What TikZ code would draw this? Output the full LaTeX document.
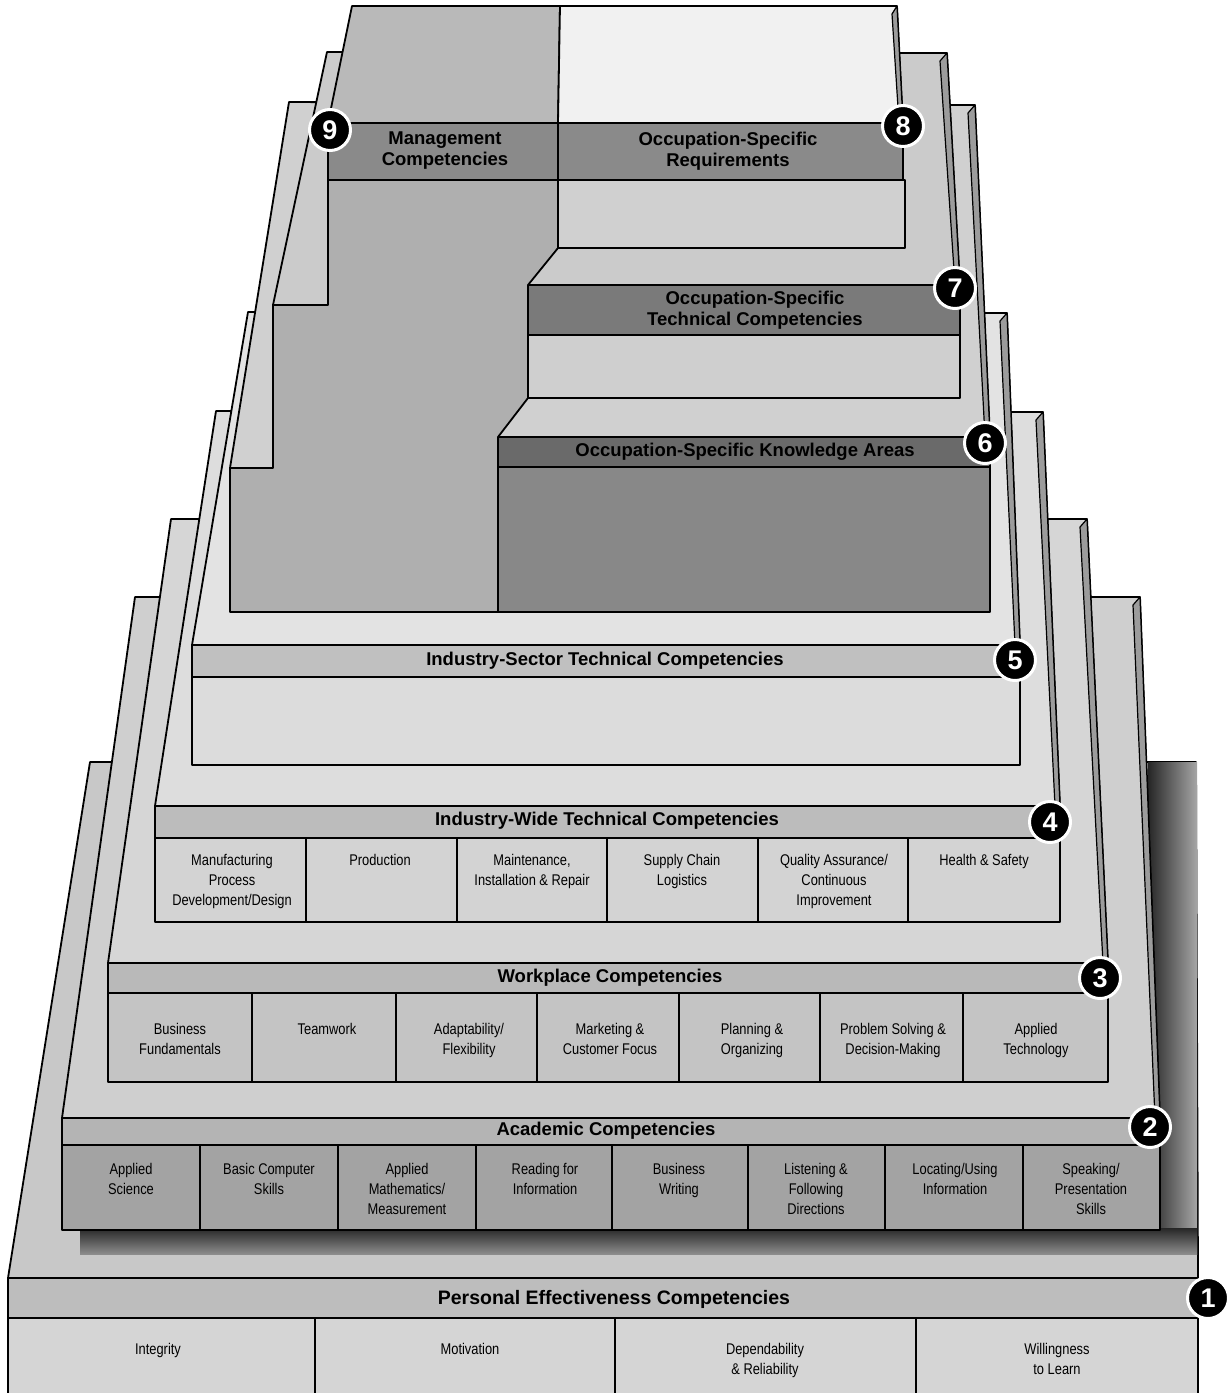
\documentclass[tikz,border=0pt]{standalone}
\usepackage{fontspec}
\setmainfont{Liberation Sans}
\newfontfamily\narrowfont{Liberation Sans}[FakeStretch=0.83]
\usetikzlibrary{calc}
\definecolor{topA}{HTML}{C8C8C8}
\definecolor{topB}{HTML}{CFCFCF}
\definecolor{topC}{HTML}{D6D6D6}
\definecolor{topD}{HTML}{DDDDDD}
\definecolor{topE}{HTML}{E3E3E3}
\definecolor{topF}{HTML}{D0D0D0}
\definecolor{topG}{HTML}{CBCBCB}
\definecolor{hdrA}{HTML}{BDBDBD}
\definecolor{celA}{HTML}{D5D5D5}
\definecolor{hdrB}{HTML}{B4B4B4}
\definecolor{celB}{HTML}{A3A3A3}
\definecolor{hdrC}{HTML}{B9B9B9}
\definecolor{celC}{HTML}{C4C4C4}
\definecolor{hdrD}{HTML}{BCBCBC}
\definecolor{celD}{HTML}{D3D3D3}
\definecolor{hdrE}{HTML}{C0C0C0}
\definecolor{celE}{HTML}{DCDCDC}
\definecolor{hdrF}{HTML}{6A6A6A}
\definecolor{celF}{HTML}{888888}
\definecolor{hdrG}{HTML}{7A7A7A}
\definecolor{celG}{HTML}{CFCFCF}
\definecolor{hdrH}{HTML}{8A8A8A}
\definecolor{celH}{HTML}{D0D0D0}
\definecolor{mgmt}{HTML}{AFAFAF}
\definecolor{mgmttop}{HTML}{B9B9B9}
\definecolor{occtop}{HTML}{F1F1F1}
\definecolor{sidec}{HTML}{9C9C9C}
\begin{document}
\begin{tikzpicture}[x=1pt,y=-1pt,line join=round,
  edge/.style={draw=black,line width=1.8pt},
  hdr/.style={font=\fontsize{18.5}{21}\selectfont\bfseries,align=center,inner sep=0pt},
  celltxt/.style={font=\narrowfont\fontsize{15.5}{20}\selectfont,align=center,inner sep=0pt,anchor=north},
  badge/.style={circle,fill=black,draw=white,line width=3pt,minimum size=41pt,inner sep=0pt,
    text=white,font=\fontsize{27}{27}\selectfont\bfseries},
  sideface/.style={fill=sidec,draw=black,line width=1.2pt}]
\useasboundingbox (0,0) rectangle (1231,1393);
\begin{scope}
\clip (0,0) rectangle (1231,1393);

% ---------- tier 1 ----------
\filldraw[fill=topA,edge] (90,762) -- (1196,762) -- (1198,1278) -- (8,1278) -- cycle;
% shadow of tier 2
\shade[left color=black!85,right color=black!35] (1148,762) rectangle (1197,1254);
\shade[top color=black!85,bottom color=black!45] (80,1228) rectangle (1197,1254);
\filldraw[fill=hdrA,edge] (8,1278) rectangle (1198,1318);
\filldraw[fill=celA,edge] (8,1318) rectangle (1198,1400);
\foreach \xx in {315,615,916} \draw[edge] (\xx,1318) -- (\xx,1400);

% ---------- tier 2 ----------
\filldraw[fill=topB,edge] (135,597) -- (1140,597) -- (1160,1118) -- (62,1118) -- cycle;
\filldraw[sideface] (1140,597) -- (1160,1118) -- (1155,1118) -- (1133,605) -- cycle;
\filldraw[fill=hdrB,edge] (62,1118) rectangle (1160,1145);
\filldraw[fill=celB,edge] (62,1145) rectangle (1160,1230);
\foreach \xx in {200,338,476,612,748,885,1023} \draw[edge] (\xx,1145) -- (\xx,1230);

% ---------- tier 3 ----------
\filldraw[fill=topC,edge] (171,519) -- (1087,519) -- (1108,963) -- (108,963) -- cycle;
\filldraw[sideface] (1087,519) -- (1108,963) -- (1103,963) -- (1080,527) -- cycle;
\filldraw[fill=hdrC,edge] (108,963) rectangle (1108,993);
\filldraw[fill=celC,edge] (108,993) rectangle (1108,1082);
\foreach \xx in {252,396,537,679,820,963} \draw[edge] (\xx,993) -- (\xx,1082);

% ---------- tier 4 ----------
\filldraw[fill=topD,edge] (216,411) -- (1043,412) -- (1060,806) -- (155,806) -- cycle;
\filldraw[sideface] (1043,412) -- (1060,806) -- (1055,806) -- (1036,420) -- cycle;
\filldraw[fill=hdrD,edge] (155,806) rectangle (1060,838);
\filldraw[fill=celD,edge] (155,838) rectangle (1060,922);
\foreach \xx in {306,457,607,758,908} \draw[edge] (\xx,838) -- (\xx,922);

% ---------- tier 5 ----------
\filldraw[fill=topE,edge] (248,312) -- (1007,313) -- (1020,645) -- (192,645) -- cycle;
\filldraw[sideface] (1007,313) -- (1020,645) -- (1015,645) -- (1000,321) -- cycle;
\filldraw[fill=hdrE,edge] (192,645) rectangle (1020,677);
\filldraw[fill=celE,edge] (192,677) rectangle (1020,765);

% ---------- tier 6 ----------
\filldraw[fill=topF,edge] (289,102) -- (975,105) -- (990,437) -- (498,437) -- (498,468) -- (230,468) -- cycle;
\filldraw[sideface] (975,105) -- (990,437) -- (985,437) -- (968,113) -- cycle;
\filldraw[fill=hdrF,edge] (498,437) rectangle (990,467);
\filldraw[fill=celF,edge] (498,467) rectangle (990,612);

% ---------- tier 7 ----------
\filldraw[fill=topG,edge] (327,52) -- (947,53) -- (960,285) -- (528,285) -- (528,305) -- (273,305) -- cycle;
\filldraw[sideface] (947,53) -- (960,285) -- (955,285) -- (940,61) -- cycle;
\filldraw[fill=hdrG,edge] (528,285) rectangle (960,335);
\filldraw[fill=celG,edge] (528,335) rectangle (960,398);

% ---------- management tower (tier 9 body) ----------
\filldraw[fill=mgmt,edge] (328,180) -- (558,180) -- (558,248) -- (528,285) -- (528,398) -- (498,437)
  -- (498,612) -- (230,612) -- (230,468) -- (273,468) -- (273,305) -- (328,305) -- cycle;

% ---------- tiers 8 and 9 ----------
\filldraw[fill=mgmttop,edge] (352,6) -- (560,6) -- (558,123) -- (328,123) -- cycle;
\filldraw[fill=occtop,edge] (560,6) -- (897,6) -- (903,123) -- (558,123) -- cycle;
\filldraw[sideface] (897,6) -- (903,123) -- (899,123) -- (892,14) -- cycle;
\filldraw[fill=hdrH,edge] (558,123) rectangle (903,180);
\filldraw[fill=celH,edge] (558,180) rectangle (905,248);
\filldraw[fill=hdrH,edge] (328,123) rectangle (558,180);
\end{scope}

% ---------- header texts ----------
\node[hdr,font=\fontsize{19.5}{21}\selectfont\bfseries] (h1) at (614,1299) {Personal Effectiveness Competencies};
\node[hdr] (h2) at (606,1131) {Academic Competencies};
\node[hdr] (h3) at (610,978) {Workplace Competencies};
\node[hdr] (h4) at (607,821) {Industry-Wide Technical Competencies};
\node[hdr] (h5) at (605,661) {Industry-Sector Technical Competencies};
\node[hdr] (h6) at (745,452) {Occupation-Specific Knowledge Areas};
\node[hdr] (h7) at (755,310) {Occupation-Specific\\Technical Competencies};
\node[hdr] (h8) at (728,151) {Occupation-Specific\\Requirements};
\node[hdr] (h9) at (445,151) {Management\\Competencies};

% ---------- tier 1 cells ----------
\node[celltxt] (c1a) at (158,1343) {Integrity};
\node[celltxt] (c1b) at (470,1343) {Motivation};
\node[celltxt] (c1c) at (765,1343) {Dependability\\\& Reliability};
\node[celltxt] (c1d) at (1057,1343) {Willingness\\to Learn};

% ---------- tier 2 cells ----------
\node[celltxt] (c2a) at (131,1163) {Applied\\Science};
\node[celltxt] (c2b) at (269,1163) {Basic Computer\\Skills};
\node[celltxt] (c2c) at (407,1163) {Applied\\Mathematics/\\Measurement};
\node[celltxt] (c2d) at (545,1163) {Reading for\\Information};
\node[celltxt] (c2e) at (679,1163) {Business\\Writing};
\node[celltxt] (c2f) at (816,1163) {Listening \&\\Following\\Directions};
\node[celltxt] (c2g) at (955,1163) {Locating/Using\\Information};
\node[celltxt] (c2h) at (1091,1163) {Speaking/\\Presentation\\Skills};

% ---------- tier 3 cells ----------
\node[celltxt] (c3a) at (180,1023) {Business\\Fundamentals};
\node[celltxt] (c3b) at (327,1023) {Teamwork};
\node[celltxt] (c3c) at (469,1023) {Adaptability/\\Flexibility};
\node[celltxt] (c3d) at (610,1023) {Marketing \&\\Customer Focus};
\node[celltxt] (c3e) at (752,1023) {Planning \&\\Organizing};
\node[celltxt] (c3f) at (893,1023) {Problem Solving \&\\Decision-Making};
\node[celltxt] (c3g) at (1036,1023) {Applied\\Technology};

% ---------- tier 4 cells ----------
\node[celltxt] (c4a) at (232,854) {Manufacturing\\Process\\Development/Design};
\node[celltxt] (c4b) at (380,854) {Production};
\node[celltxt] (c4c) at (532,854) {Maintenance,\\Installation \& Repair};
\node[celltxt] (c4d) at (682,854) {Supply Chain\\Logistics};
\node[celltxt] (c4e) at (834,854) {Quality Assurance/\\Continuous\\Improvement};
\node[celltxt] (c4f) at (984,854) {Health \& Safety};

% ---------- badges ----------
\node[badge] (b1) at (1208,1298) {1};
\node[badge] (b2) at (1150,1127) {2};
\node[badge] (b3) at (1100,978) {3};
\node[badge] (b4) at (1050,822) {4};
\node[badge] (b5) at (1015,660) {5};
\node[badge] (b6) at (985,443) {6};
\node[badge] (b7) at (955,288) {7};
\node[badge] (b8) at (903,126) {8};
\node[badge] (b9) at (330,130) {9};
\end{tikzpicture}
\end{document}
